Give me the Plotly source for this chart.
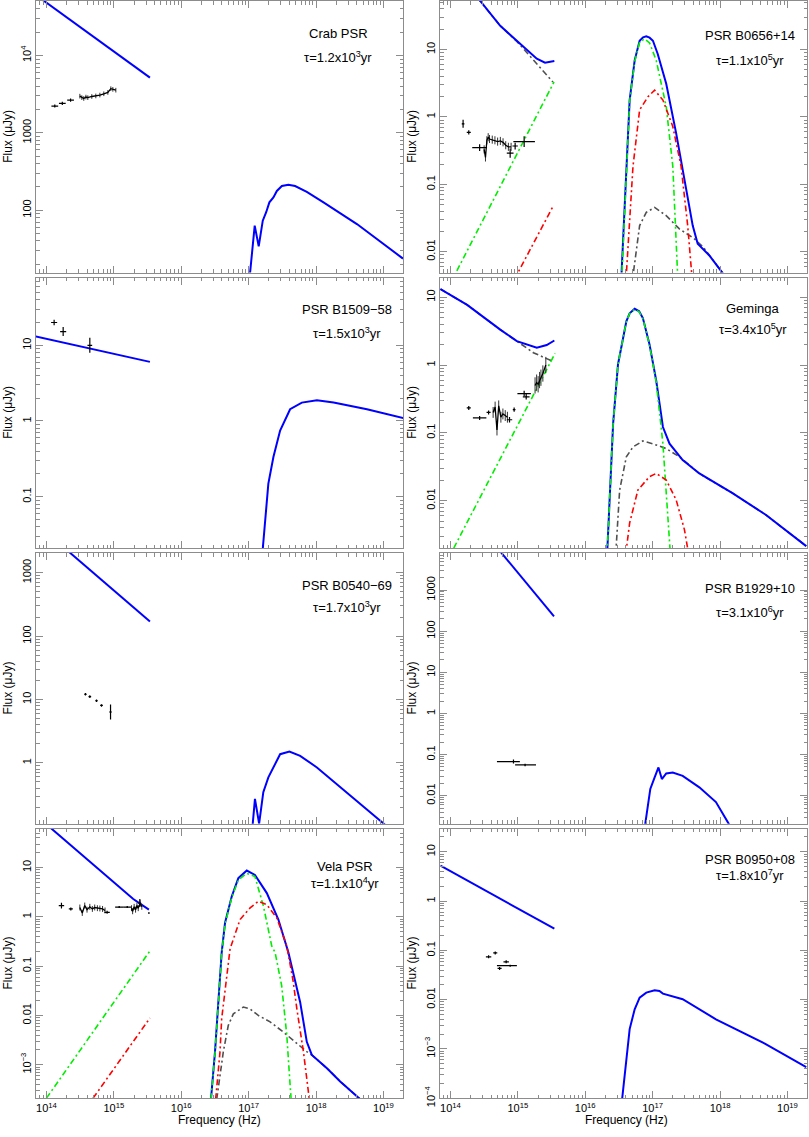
import numpy as np
import plotly.graph_objects as go
from plotly.subplots import make_subplots

# ---------------- Crab PSR ----------------
crab_pl_nu = [7.08e13, 3.43e15]
crab_pl_flux = [6.0e4, 5180]
crab_x_nu = [1.02e17, 1.23e17, 1.41e17, 1.62e17, 1.82e17, 2.03e17, 2.33e17, 2.62e17,
             3.11e17, 3.89e17, 4.89e17, 7.29e17, 1.29e18, 4.04e18, 1.95e19]
crab_x_flux = [12, 63, 34, 73, 94, 126, 146, 177, 205, 213, 205, 172, 126, 66, 23.6]
crab_pt_nu = [1.33e14, 1.72e14, 2.28e14]
crab_pt_flux = [2220, 2400, 2650]
crab_pt_dxm = [0.05, 0.05, 0.05]
crab_pt_dxp = [0.05, 0.05, 0.05]
crab_pt_dy = [0.02, 0.02, 0.02]
crab_spec_nu = [3.13e14, 3.35e14, 3.58e14, 3.85e14, 4.11e14, 4.71e14, 5.40e14, 6.20e14,
                7.10e14, 8.15e14, 9.02e14, 9.66e14, 1.07e15]
crab_spec_flux = [2980, 2850, 2780, 2900, 2850, 2950, 3000, 3080, 3200, 3330, 3720, 3650, 3560]

# ---------------- PSR B0656+14 ----------------
b0656_blue_lo_nu = [2.51e14, 2.77e14, 5.48e14, 9.66e14, 1.36e15, 1.91e15, 2.53e15, 3.48e15]
b0656_blue_lo_flux = [58.9, 52.5, 22.5, 13.5, 9.66, 7.29, 6.37, 6.73]
b0656_gray_lo_nu = [2.51e14, 5.48e14, 9.66e14, 1.28e15, 1.91e15, 2.68e15, 3.31e15]
b0656_gray_lo_flux = [58.9, 22.5, 13.2, 9.66, 6.0, 4.15, 3.3]
b0656_green_lo_nu = [1.0e14, 3.44e15]
b0656_green_lo_flux = [0.0034, 3.3]
b0656_red_lo_nu = [8.9e14, 3.36e15]
b0656_red_lo_flux = [0.0039, 0.048]
b0656_blue_x_nu = [3.39e16, 4.07e16, 4.56e16, 5.41e16, 6.41e16, 7.2e16, 8.04e16, 9.0e16,
                   1.01e17, 1.19e17, 1.59e17, 2.23e17, 3.13e17, 3.93e17, 4.66e17, 6.93e17,
                   1.15e18]
b0656_blue_x_flux = [0.0032, 0.186, 1.78, 6.9, 13.5, 15.2, 15.7, 15.0, 13.5, 8.6, 3.1,
                     0.575, 0.094, 0.0244, 0.0131, 0.0088, 0.0045]
b0656_green_x_nu = [3.44e16, 4.07e16, 4.56e16, 5.41e16, 6.41e16, 7.59e16, 9.0e16, 1.13e17,
                    1.59e17, 1.99e17, 2.36e17]
b0656_green_x_flux = [0.0032, 0.178, 1.70, 6.6, 12.9, 14.4, 12.5, 6.9, 1.42, 0.186, 0.004]
b0656_red_x_nu = [3.98e16, 5.11e16, 6.41e16, 8.51e16, 1.07e17, 1.42e17, 1.99e17, 2.64e17,
                  3.31e17, 3.85e17]
b0656_red_x_flux = [0.0032, 0.186, 1.27, 1.99, 2.5, 1.78, 0.72, 0.186, 0.0244, 0.004]
b0656_gray_x_nu = [4.90e16, 6.41e16, 8.04e16, 1.07e17, 1.59e17, 2.49e17, 3.51e17, 4.16e17,
                   5.62e17, 6.93e17, 1.15e18]
b0656_gray_x_flux = [0.0032, 0.0244, 0.0384, 0.0454, 0.0342, 0.0218, 0.0174, 0.0155,
                     0.0117, 0.0088, 0.0045]
b0656_pt_nu = [1.54e14, 1.87e14, 2.71e14, 7.69e14, 9.12e14, 1.24e15]
b0656_pt_flux = [0.79, 0.59, 0.35, 0.29, 0.37, 0.43]
b0656_pt_dxm = [0.02, 0.03, 0.11, 0.05, 0.04, 0.16]
b0656_pt_dxp = [0.02, 0.03, 0.11, 0.05, 0.04, 0.16]
b0656_pt_dy = [0.06, 0.03, 0.05, 0.07, 0.05, 0.08]
b0656_spec_nu = [3.16e14, 3.31e14, 3.47e14, 3.63e14, 3.80e14, 4.17e14, 4.57e14, 5.01e14,
                 5.50e14, 6.03e14, 6.61e14, 7.24e14, 7.94e14]
b0656_spec_flux = [0.33, 0.25, 0.45, 0.50, 0.47, 0.46, 0.45, 0.43, 0.44, 0.42, 0.38, 0.36, 0.36]

# ---------------- PSR B1509-58 ----------------
b1509_pl_nu = [6.93e13, 3.43e15]
b1509_pl_flux = [13.1, 6.04]
b1509_x_nu = [1.60e17, 1.75e17, 1.96e17, 2.33e17, 2.93e17, 4.12e17, 6.15e17, 1.03e18,
              1.82e18, 5.69e18, 1.99e19]
b1509_x_flux = [0.018, 0.0446, 0.149, 0.334, 0.746, 1.43, 1.75, 1.88, 1.75, 1.43, 1.09]
b1509_pt_nu = [1.30e14, 1.77e14, 4.40e14]
b1509_pt_flux = [20.0, 15.2, 10.0]
b1509_pt_dxm = [0.045, 0.045, 0.035]
b1509_pt_dxp = [0.045, 0.045, 0.035]
b1509_pt_dy = [0.035, 0.06, 0.10]

# ---------------- Geminga ----------------
gem_blue_lo_nu = [7.11e13, 1.77e14, 5.48e14, 9.66e14, 1.91e15, 2.68e15, 3.48e15]
gem_blue_lo_flux = [13.2, 7.7, 3.33, 2.25, 1.80, 1.97, 2.30]
gem_gray_lo_nu = [7.11e13, 1.77e14, 5.48e14, 9.66e14, 1.70e15, 3.18e15]
gem_gray_lo_flux = [13.2, 7.7, 3.33, 2.25, 1.52, 1.15]
gem_green_lo_nu = [1.12e14, 3.56e15]
gem_green_lo_flux = [0.002, 1.48]
gem_blue_x_nu = [2.11e16, 2.31e16, 2.59e16, 3.06e16, 3.85e16, 4.07e16, 4.56e16, 5.41e16,
                 6.3e16, 7.16e16, 9.0e16, 1.13e17, 1.42e17, 1.78e17, 2.79e17, 4.93e17,
                 1.53e18, 4.76e18, 1.90e19]
gem_blue_x_flux = [0.0016, 0.0144, 0.136, 1.02, 3.52, 4.42, 5.8, 6.74, 6.2, 4.93, 2.0,
                   0.586, 0.122, 0.0693, 0.0396, 0.0252, 0.0129, 0.0062, 0.00214]
gem_green_x_nu = [2.11e16, 2.31e16, 2.59e16, 3.06e16, 3.85e16, 4.07e16, 4.56e16, 5.41e16,
                  6.3e16, 7.16e16, 9.0e16, 1.13e17, 1.42e17, 1.59e17, 1.82e17]
gem_green_x_flux = [0.0016, 0.0144, 0.136, 1.02, 3.52, 4.4, 5.75, 6.6, 6.1, 4.85, 1.95,
                    0.56, 0.069, 0.0144, 0.0018]
gem_gray_x_nu = [2.83e16, 3.24e16, 4.07e16, 5.11e16, 7.16e16, 1.01e17, 1.59e17, 2.49e17,
                 3.31e17, 4.93e17, 1.53e18, 4.76e18, 1.90e19]
gem_gray_x_flux = [0.0016, 0.0144, 0.0443, 0.062, 0.0759, 0.069, 0.0586, 0.0443, 0.0353,
                   0.0251, 0.0129, 0.0062, 0.00214]
gem_red_x_nu = [3.98e16, 4.56e16, 6.05e16, 8.99e16, 1.13e17, 1.59e17, 2.23e17, 2.96e17, 3.43e17]
gem_red_x_flux = [0.0016, 0.0047, 0.0144, 0.0226, 0.0252, 0.0202, 0.0103, 0.00375, 0.0016]
gem_pt_nu = [1.87e14, 2.71e14, 3.68e14, 7.52e14, 8.81e14, 1.24e15, 1.33e15]
gem_pt_flux = [0.233, 0.166, 0.20, 0.156, 0.22, 0.38, 0.34]
gem_pt_dxm = [0.03, 0.10, 0.03, 0.04, 0.02, 0.10, 0.05]
gem_pt_dxp = [0.03, 0.10, 0.03, 0.04, 0.02, 0.10, 0.05]
gem_pt_dy = [0.03, 0.03, 0.03, 0.04, 0.03, 0.04, 0.04]
gem_spec1_nu = [4.3e14, 4.6e14, 4.9e14, 5.2e14, 5.6e14, 6.0e14, 6.5e14, 7.0e14]
gem_spec1_flux = [0.20, 0.24, 0.11, 0.25, 0.17, 0.19, 0.18, 0.17]
gem_spec2_nu = [1.80e15, 1.90e15, 2.0e15, 2.1e15, 2.2e15, 2.35e15, 2.6e15]
gem_spec2_flux = [0.5, 0.55, 0.52, 0.6, 0.65, 0.75, 1.0]

# ---------------- PSR B0540-69 ----------------
b0540_pl_nu = [2.0e14, 3.43e15]
b0540_pl_flux = [2290, 170]
b0540_x_nu = [1.12e17, 1.24e17, 1.43e17, 1.65e17, 1.96e17, 2.33e17, 2.93e17, 4.03e17,
              5.81e17, 1.03e18, 3.21e18, 1.00e19, 1.26e19]
b0540_x_flux = [0.08, 0.271, 0.11, 0.344, 0.59, 0.847, 1.37, 1.51, 1.29, 0.847, 0.305, 0.11, 0.09]
b0540_pt_nu = [3.79e14, 4.40e14, 5.53e14, 6.56e14, 8.93e14]
b0540_pt_flux = [12.1, 11.1, 9.55, 8.06, 6.35]
b0540_pt_dxm = [0.02, 0.02, 0.02, 0.02, 0.02]
b0540_pt_dxp = [0.02, 0.02, 0.02, 0.02, 0.02]
b0540_pt_dy = [0.02, 0.02, 0.02, 0.02, 0.12]

# ---------------- PSR B1929+10 ----------------
b1929_pl_nu = [5.01e14, 3.44e15]
b1929_pl_flux = [10400, 231]
b1929_x_nu = [7.59e16, 9.23e16, 1.07e17, 1.22e17, 1.37e17, 1.59e17, 1.99e17, 2.79e17,
              4.93e17, 8.69e17, 1.34e18, 1.58e18]
b1929_x_flux = [0.0016, 0.0146, 0.0279, 0.0487, 0.0254, 0.0348, 0.0368, 0.0305, 0.016,
                0.007, 0.0021, 0.0014]
b1929_pt_nu = [8.61e14, 1.28e15]
b1929_pt_flux = [0.0678, 0.056]
b1929_pt_dxm = [0.245, 0.148]
b1929_pt_dxp = [0.095, 0.162]
b1929_pt_dy = [0.05, 0.03]

# ---------------- Vela PSR ----------------
vela_pl_nu = [1.0e14, 6.2e14, 1.94e15, 3.31e15]
vela_pl_flux = [75.5, 8.95, 2.3, 1.4]
vela_green_lo_nu = [1.0e14, 3.43e15]
vela_green_lo_flux = [2.1e-4, 0.204]
vela_red_lo_nu = [4.92e14, 3.43e15]
vela_red_lo_flux = [2.1e-4, 0.00887]
vela_blue_x_nu = [2.76e16, 3.17e16, 3.55e16, 3.98e16, 4.46e16, 5.61e16, 7.03e16, 9.38e16,
                  1.24e17, 1.39e17, 1.86e17, 2.76e17, 3.89e17, 5.81e17, 7.29e17, 8.65e17,
                  1.45e18, 2.28e18, 4.52e18]
vela_blue_x_flux = [2.0e-4, 1.84e-3, 0.0186, 0.189, 0.757, 2.6, 6.1, 8.7, 7.1, 5.6, 3.04,
                    0.883, 0.189, 0.0186, 2.92e-3, 1.58e-3, 8.5e-4, 4.57e-4, 2.0e-4]
vela_green_x_nu = [2.76e16, 3.17e16, 3.55e16, 3.98e16, 4.46e16, 5.61e16, 7.03e16, 9.38e16,
                   1.24e17, 1.66e17, 2.20e17, 2.47e17, 3.09e17, 3.68e17, 4.12e17, 4.27e17]
vela_green_x_flux = [2.0e-4, 1.7e-3, 0.017, 0.18, 0.71, 2.45, 5.62, 7.67, 6.6, 1.64, 0.257,
                     0.189, 0.0404, 0.004, 3.9e-4, 2.0e-4]
vela_red_x_nu = [3.24e16, 3.76e16, 3.98e16, 4.73e16, 5.30e16, 7.45e16, 1.05e17, 1.39e17,
                 1.86e17, 2.62e17, 3.68e17, 4.57e17, 5.19e17, 6.50e17, 7.71e17, 7.94e17]
vela_red_x_flux = [2.0e-4, 1.84e-3, 8.6e-3, 0.0547, 0.224, 0.883, 1.52, 2.07, 1.77, 0.95,
                   0.257, 0.050, 0.0136, 1.84e-3, 2.9e-4, 2.0e-4]
vela_gray_x_nu = [3.36e16, 4.21e16, 4.99e16, 5.93e16, 8.34e16, 1.05e17, 1.39e17, 2.08e17,
                  3.28e17, 5.19e17, 7.29e17, 8.65e17, 1.45e18, 2.28e18, 4.52e18]
vela_gray_x_flux = [2.0e-4, 1.84e-3, 6.3e-3, 0.0108, 0.0148, 0.0136, 0.0100, 7.4e-3,
                    4.6e-3, 2.7e-3, 1.84e-3, 1.58e-3, 8.5e-4, 4.57e-4, 2.0e-4]
vela_pt_nu = [1.67e14, 2.30e14, 7.94e14, 1.20e15, 1.58e15, 2.43e15, 3.31e15]
vela_pt_flux = [1.69, 1.45, 1.24, 1.58, 1.58, 1.91, 1.2]
vela_pt_dxm = [0.04, 0.03, 0.04, 0.06, 0.06, 0.02, 0.01]
vela_pt_dxp = [0.04, 0.03, 0.04, 0.06, 0.06, 0.02, 0.01]
vela_pt_dy = [0.06, 0.03, 0.03, 0.02, 0.02, 0.08, 0.01]
vela_spec1_nu = [3.13e14, 3.4e14, 3.7e14, 4.0e14, 4.4e14, 4.8e14, 5.2e14, 5.7e14, 6.2e14,
                 6.8e14, 7.4e14]
vela_spec1_flux = [1.55, 1.2, 1.7, 1.4, 1.6, 1.45, 1.55, 1.5, 1.48, 1.45, 1.35]
vela_spec2_nu = [1.83e15, 1.9e15, 2.0e15, 2.1e15, 2.2e15, 2.3e15, 2.45e15, 2.6e15]
vela_spec2_flux = [1.5, 1.3, 1.6, 1.4, 1.7, 1.5, 1.9, 1.6]

# ---------------- PSR B0950+08 ----------------
b0950_pl_nu = [7.11e13, 3.48e15]
b0950_pl_flux = [5.23, 0.275]
b0950_x_nu = [3.47e16, 4.07e16, 4.56e16, 5.41e16, 6.41e16, 8.04e16, 1.07e17, 1.26e17,
              1.42e17, 2.79e17, 8.69e17, 4.76e18, 1.90e19]
b0950_x_flux = [7.9e-5, 5.4e-4, 2.53e-3, 6.4e-3, 0.011, 0.0139, 0.0155, 0.015, 0.0133,
                0.0102, 4.0e-3, 1.26e-3, 4.3e-4]
b0950_pt_nu = [3.68e14, 4.62e14, 5.36e14, 6.71e14, 7.69e14]
b0950_pt_flux = [0.074, 0.089, 0.043, 0.0586, 0.049]
b0950_pt_dxm = [0.04, 0.03, 0.03, 0.04, 0.196]
b0950_pt_dxp = [0.04, 0.03, 0.03, 0.04, 0.10]
b0950_pt_dy = [0.03, 0.03, 0.03, 0.03, 0.02]

# panel labels
names = ["Crab PSR", "PSR B0656+14", "PSR B1509\u221258", "Geminga",
         "PSR B0540\u221269", "PSR B1929+10", "Vela PSR", "PSR B0950+08"]
tau_mant = ["1.2", "1.1", "1.5", "3.4", "1.7", "3.1", "1.1", "1.8"]
tau_exp = [3, 5, 3, 5, 3, 6, 4, 7]

BLUE = "#0000ff"
GREEN = "#00ee00"
RED = "#ff0000"
GRAY = "#505050"
FRAME = "#8c8c8c"
DASHDOT = "6px,3px,2px,3px"
FONT = "Liberation Sans, Arial, sans-serif"

W, H = 809, 1137
col_px = [(36, 403), (440, 807)]
row_px = [(0, 274), (279, 552), (557, 830), (835, 1107)]

fig = make_subplots(rows=4, cols=2)


def curve(nu, flux, color, r, c, dash="solid", width=2.0):
    fig.add_trace(go.Scatter(x=nu, y=flux, mode="lines",
                             line=dict(color=color, width=width, dash=dash),
                             showlegend=False, hoverinfo="skip"), row=r, col=c)


def points(nu, flux, dxm, dxp, dy, r, c):
    nu = np.array(nu); flux = np.array(flux)
    dxm = np.array(dxm); dxp = np.array(dxp); dy = np.array(dy)
    fig.add_trace(go.Scatter(
        x=nu, y=flux, mode="markers", marker=dict(size=1, color="black"),
        error_x=dict(type="data", symmetric=False, array=nu * (10 ** dxp - 1),
                     arrayminus=nu * (1 - 10 ** -dxm), color="black", thickness=1.2, width=0),
        error_y=dict(type="data", symmetric=False, array=flux * (10 ** dy - 1),
                     arrayminus=flux * (1 - 10 ** -dy), color="black", thickness=1.2, width=0),
        showlegend=False, hoverinfo="skip"), row=r, col=c)


def spectrum(nu, flux, dy, r, c):
    flux = np.array(flux)
    fig.add_trace(go.Scatter(
        x=nu, y=flux, mode="lines", line=dict(color="black", width=1.3),
        error_y=dict(type="data", symmetric=False, array=flux * (10 ** dy - 1),
                     arrayminus=flux * (1 - 10 ** -dy), color="#333333", thickness=1, width=0),
        showlegend=False, hoverinfo="skip"), row=r, col=c)


# Crab
curve(crab_pl_nu, crab_pl_flux, BLUE, 1, 1)
curve(crab_x_nu, crab_x_flux, BLUE, 1, 1)
points(crab_pt_nu, crab_pt_flux, crab_pt_dxm, crab_pt_dxp, crab_pt_dy, 1, 1)
spectrum(crab_spec_nu, crab_spec_flux, 0.03, 1, 1)

# B0656+14
curve(b0656_gray_lo_nu, b0656_gray_lo_flux, GRAY, 1, 2, DASHDOT, 1.6)
curve(b0656_green_lo_nu, b0656_green_lo_flux, GREEN, 1, 2, DASHDOT, 1.6)
curve(b0656_red_lo_nu, b0656_red_lo_flux, RED, 1, 2, DASHDOT, 1.6)
curve(b0656_blue_lo_nu, b0656_blue_lo_flux, BLUE, 1, 2)
curve(b0656_gray_x_nu, b0656_gray_x_flux, GRAY, 1, 2, DASHDOT, 1.6)
curve(b0656_blue_x_nu, b0656_blue_x_flux, BLUE, 1, 2)
curve(b0656_green_x_nu, b0656_green_x_flux, GREEN, 1, 2, DASHDOT, 1.6)
curve(b0656_red_x_nu, b0656_red_x_flux, RED, 1, 2, DASHDOT, 1.6)
spectrum(b0656_spec_nu, b0656_spec_flux, 0.06, 1, 2)
points(b0656_pt_nu, b0656_pt_flux, b0656_pt_dxm, b0656_pt_dxp, b0656_pt_dy, 1, 2)

# B1509-58
curve(b1509_pl_nu, b1509_pl_flux, BLUE, 2, 1)
curve(b1509_x_nu, b1509_x_flux, BLUE, 2, 1)
points(b1509_pt_nu, b1509_pt_flux, b1509_pt_dxm, b1509_pt_dxp, b1509_pt_dy, 2, 1)

# Geminga
curve(gem_gray_lo_nu, gem_gray_lo_flux, GRAY, 2, 2, DASHDOT, 1.6)
curve(gem_green_lo_nu, gem_green_lo_flux, GREEN, 2, 2, DASHDOT, 1.6)
curve(gem_blue_lo_nu, gem_blue_lo_flux, BLUE, 2, 2)
curve(gem_gray_x_nu, gem_gray_x_flux, GRAY, 2, 2, DASHDOT, 1.6)
curve(gem_blue_x_nu, gem_blue_x_flux, BLUE, 2, 2)
curve(gem_green_x_nu, gem_green_x_flux, GREEN, 2, 2, DASHDOT, 1.6)
curve(gem_red_x_nu, gem_red_x_flux, RED, 2, 2, DASHDOT, 1.6)
spectrum(gem_spec1_nu, gem_spec1_flux, 0.08, 2, 2)
spectrum(gem_spec2_nu, gem_spec2_flux, 0.12, 2, 2)
points(gem_pt_nu, gem_pt_flux, gem_pt_dxm, gem_pt_dxp, gem_pt_dy, 2, 2)

# B0540-69
curve(b0540_pl_nu, b0540_pl_flux, BLUE, 3, 1)
curve(b0540_x_nu, b0540_x_flux, BLUE, 3, 1)
points(b0540_pt_nu, b0540_pt_flux, b0540_pt_dxm, b0540_pt_dxp, b0540_pt_dy, 3, 1)

# B1929+10
curve(b1929_pl_nu, b1929_pl_flux, BLUE, 3, 2)
curve(b1929_x_nu, b1929_x_flux, BLUE, 3, 2)
points(b1929_pt_nu, b1929_pt_flux, b1929_pt_dxm, b1929_pt_dxp, b1929_pt_dy, 3, 2)

# Vela
curve(vela_green_lo_nu, vela_green_lo_flux, GREEN, 4, 1, DASHDOT, 1.6)
curve(vela_red_lo_nu, vela_red_lo_flux, RED, 4, 1, DASHDOT, 1.6)
curve(vela_pl_nu, vela_pl_flux, BLUE, 4, 1)
curve(vela_gray_x_nu, vela_gray_x_flux, GRAY, 4, 1, DASHDOT, 1.6)
curve(vela_blue_x_nu, vela_blue_x_flux, BLUE, 4, 1)
curve(vela_green_x_nu, vela_green_x_flux, GREEN, 4, 1, DASHDOT, 1.6)
curve(vela_red_x_nu, vela_red_x_flux, RED, 4, 1, DASHDOT, 1.6)
spectrum(vela_spec1_nu, vela_spec1_flux, 0.06, 4, 1)
spectrum(vela_spec2_nu, vela_spec2_flux, 0.06, 4, 1)
points(vela_pt_nu, vela_pt_flux, vela_pt_dxm, vela_pt_dxp, vela_pt_dy, 4, 1)

# B0950+08
curve(b0950_pl_nu, b0950_pl_flux, BLUE, 4, 2)
curve(b0950_x_nu, b0950_x_flux, BLUE, 4, 2)
points(b0950_pt_nu, b0950_pt_flux, b0950_pt_dxm, b0950_pt_dxp, b0950_pt_dy, 4, 2)

# axes
y_ranges = [(1.192, 4.705), (-2.31, 1.72), (-1.68, 1.895), (-2.70, 1.29),
            (-0.96, 3.31), (-2.68, 3.9), (-3.68, 1.79), (-4.0, 1.47)]
y_ticks = [[100, 1000, 1e4], [0.01, 0.1, 1, 10], [0.1, 1, 10], [0.01, 0.1, 1, 10],
           [1, 10, 100, 1000], [0.01, 0.1, 1, 10, 100, 1000],
           [1e-3, 0.01, 0.1, 1, 10], [1e-4, 1e-3, 0.01, 0.1, 1, 10]]
y_text = {1e-4: "10<sup>\u22124</sup>", 1e-3: "10<sup>\u22123</sup>", 0.01: "0.01",
          0.1: "0.1", 1: "1", 10: "10", 100: "100", 1000: "1000", 1e4: "10<sup>4</sup>"}

x_major = [10.0 ** k for k in range(14, 20)]
x_minor = [m * 10.0 ** k for k in range(13, 20) for m in range(2, 10)]
y_minor = [m * 10.0 ** k for k in range(-5, 5) for m in range(2, 10)]

axis_common = dict(type="log", showline=True, linecolor=FRAME, linewidth=1, mirror="allticks",
                   ticks="inside", ticklen=7, tickcolor=FRAME, tickwidth=1, showgrid=False,
                   zeroline=False,
                   tickfont=dict(family=FONT, size=11, color="black"),
                   minor=dict(ticks="inside", ticklen=3.5, tickcolor=FRAME, tickwidth=1,
                              showgrid=False))

k = 0
for r in range(1, 5):
    for c in range(1, 3):
        x0, x1 = col_px[c - 1]
        t0, t1 = row_px[r - 1]
        xa = dict(axis_common)
        xa.update(domain=[x0 / W, x1 / W], range=[13.845, 19.29], tickvals=x_major,
                  ticktext=["10<sup>%d</sup>" % kk for kk in range(14, 20)],
                  showticklabels=(r == 4),
                  minor=dict(axis_common["minor"], tickvals=x_minor))
        ya = dict(axis_common)
        ya.update(domain=[1 - t1 / H, 1 - t0 / H], range=list(y_ranges[k]),
                  tickvals=y_ticks[k], ticktext=[y_text[v] for v in y_ticks[k]],
                  tickangle=-90,
                  minor=dict(axis_common["minor"], tickvals=y_minor))
        fig.update_xaxes(row=r, col=c, **xa)
        fig.update_yaxes(row=r, col=c, **ya)
        k += 1

# text labels
name_pos = [(338, 33, 57), (750, 35, 60), (347, 311, 335), (753, 310, 331),
            (347, 590, 611), (750, 593, 616), (345, 873, 890), (750, 866, 882)]


def label(xp, yp, text, size=13, angle=0):
    return dict(x=xp / W, y=1 - yp / H, xref="paper", yref="paper", text=text,
                showarrow=False, xanchor="center", yanchor="middle", textangle=angle,
                font=dict(family=FONT, size=size, color="black"))


annotations = []
for i, (px, py1, py2) in enumerate(name_pos):
    annotations.append(label(px, py1, names[i]))
    annotations.append(label(px, py2, "\u03c4=%sx10<sup>%d</sup>yr" % (tau_mant[i], tau_exp[i])))

for r in range(4):
    t0, t1 = row_px[r]
    for xp in (8, 412):
        annotations.append(label(xp, (t0 + t1) / 2, "Flux (\u03bcJy)", 12, -90))
for xp in (219, 626):
    annotations.append(label(xp, 1129, "Frequency (Hz)", 12))

fig.update_layout(width=W, height=H, margin=dict(l=0, r=0, t=0, b=0),
                  paper_bgcolor="white", plot_bgcolor="white",
                  annotations=annotations, showlegend=False)

# the page body has a default 8px margin; drop it so the figure fills the window
fig.write_html("out.html", config={"displayModeBar": False},
               post_script="document.body.style.margin='0';")
